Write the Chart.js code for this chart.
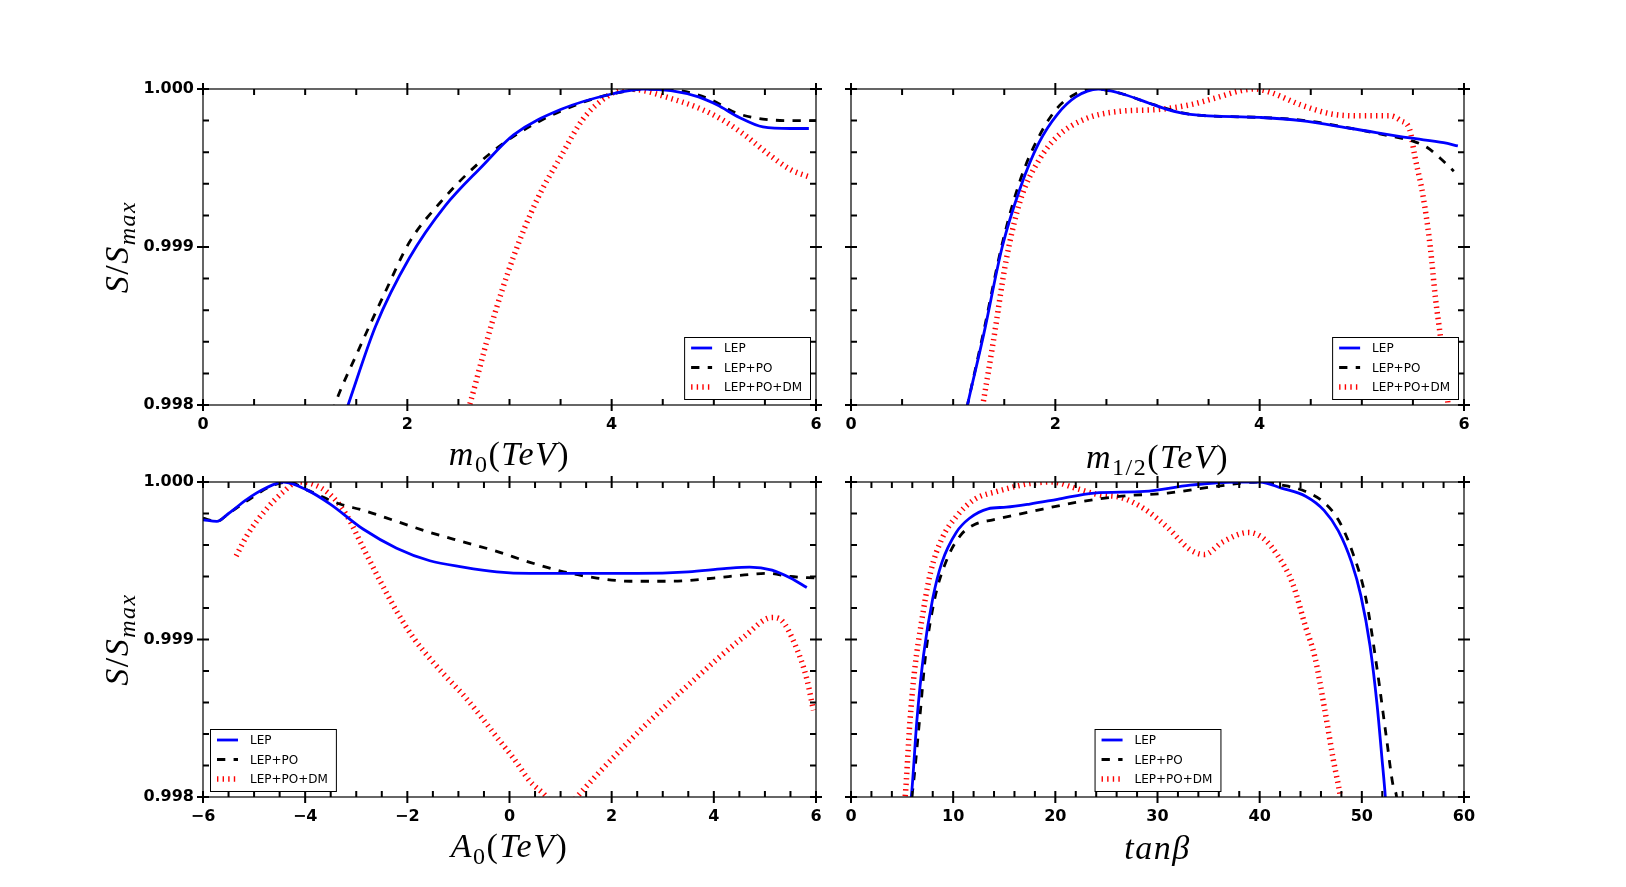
<!DOCTYPE html>
<html>
<head>
<meta charset="utf-8">
<script src="https://cdn.jsdelivr.net/npm/chart.js@4.4.0/dist/chart.umd.min.js"></script>
<style>
  html, body { margin: 0; background: #fff; }
  #wrap { position: relative; width: 1626px; height: 887px; }
  #wrap canvas { position: absolute; left: 0; top: 0; }
</style>
</head>
<body>
<div id="wrap">
  <canvas id="m0" width="1626" height="887"></canvas>
  <canvas id="mh" width="1626" height="887"></canvas>
  <canvas id="a0" width="1626" height="887"></canvas>
  <canvas id="tb" width="1626" height="887"></canvas>
</div>
<script>
// series labels
var seriesNames = ["LEP", "LEP+PO", "LEP+PO+DM"];

// m0 panel: [m0 (TeV), S/Smax]
var m0Lep = [[1.35,0.99787],[1.42,0.998],[1.69,0.99850],[2.02,0.99893],[2.37,0.99926],[2.73,0.99951],[3.04,0.99971],[3.5,0.99987],[4.01,0.99997],[4.31,1.0],[4.58,0.99999],[4.85,0.99995],[5.03,0.9999],[5.25,0.99982],[5.48,0.99976],[5.75,0.99975],[5.93,0.99975]];
var m0Po  = [[1.22,0.99785],[1.29,0.998],[1.51,0.99833],[1.78,0.99871],[2.02,0.99903],[2.32,0.99928],[2.68,0.99952],[3.04,0.9997],[3.5,0.99986],[4.01,0.99997],[4.4,1.0],[4.67,0.99999],[4.98,0.99993],[5.21,0.99985],[5.48,0.99981],[5.75,0.9998],[6.0,0.9998]];
var m0Dm  = [[2.55,0.99787],[2.61,0.998],[2.82,0.9985],[3.04,0.99894],[3.27,0.9993],[3.5,0.99957],[3.72,0.99981],[3.95,0.99995],[4.13,1.0],[4.31,0.99999],[4.53,0.99995],[4.85,0.99988],[5.07,0.99981],[5.3,0.99971],[5.53,0.99959],[5.75,0.99949],[5.95,0.99944]];

// m1/2 panel
var mhLep = [[1.1,0.99788],[1.14,0.998],[1.3,0.99845],[1.48,0.999],[1.66,0.99938],[1.84,0.99966],[2.02,0.99984],[2.2,0.99995],[2.42,1.0],[2.65,0.99997],[2.92,0.99991],[3.1,0.99987],[3.32,0.99984],[4.0,0.99982],[4.4,0.9998],[4.9,0.99975],[5.47,0.99969],[5.8,0.99966],[5.94,0.99964]];
var mhPo  = [[1.1,0.99788],[1.14,0.998],[1.3,0.99847],[1.48,0.99902],[1.66,0.99943],[1.84,0.9997],[2.02,0.99988],[2.2,0.99997],[2.38,1.0],[2.65,0.99997],[2.92,0.99991],[3.32,0.99984],[4.0,0.99982],[4.45,0.9998],[4.9,0.99975],[5.37,0.99969],[5.5,0.99967],[5.64,0.99963],[5.77,0.99956],[5.9,0.99948]];
var mhDm  = [[1.25,0.99785],[1.29,0.998],[1.39,0.99839],[1.52,0.99892],[1.66,0.9993],[1.84,0.99955],[2.02,0.9997],[2.29,0.99981],[2.65,0.99986],[3.0,0.99987],[3.32,0.9999],[3.55,0.99994],[3.82,0.99999],[3.95,1.0],[4.1,0.99998],[4.4,0.9999],[4.72,0.99984],[5.0,0.99983],[5.28,0.99983],[5.38,0.9998],[5.47,0.99974],[5.52,0.99957],[5.6,0.99932],[5.67,0.999],[5.72,0.99868],[5.77,0.99843],[5.82,0.99815],[5.86,0.9979]];

// A0 panel
var a0Lep = [[-6.0,0.99976],[-5.73,0.99975],[-5.5,0.9998],[-5.14,0.99989],[-4.78,0.99996],[-4.42,1.0],[-3.97,0.99995],[-3.51,0.99986],[-2.86,0.9997],[-2.21,0.99958],[-1.56,0.9995],[-0.91,0.99946],[-0.25,0.99943],[0.4,0.99942],[1.5,0.99942],[2.5,0.99942],[3.5,0.99943],[4.2,0.99945],[4.7,0.99946],[5.14,0.99944],[5.5,0.99939],[5.82,0.99933]];
var a0Po  = [[-6.0,0.99977],[-5.73,0.99975],[-5.5,0.9998],[-5.14,0.99988],[-4.69,0.99997],[-4.33,1.0],[-3.97,0.99995],[-3.32,0.99986],[-2.86,0.99982],[-2.21,0.99975],[-1.56,0.99968],[-0.91,0.99962],[-0.25,0.99956],[0.4,0.99949],[1.06,0.99943],[1.71,0.99939],[2.36,0.99937],[3.2,0.99937],[4.0,0.99939],[4.6,0.99941],[5.05,0.99942],[5.5,0.9994],[6.0,0.99939]];
var a0Dm  = [[-5.35,0.99953],[-5.14,0.99966],[-4.78,0.99982],[-4.42,0.99994],[-4.15,1.0],[-3.88,0.99999],[-3.51,0.99992],[-3.19,0.99979],[-2.86,0.99958],[-2.53,0.99937],[-2.21,0.99918],[-1.88,0.99901],[-1.56,0.99888],[-1.23,0.99876],[-0.91,0.99865],[-0.58,0.99852],[-0.25,0.99838],[0.07,0.99825],[0.4,0.9981],[0.73,0.998],[1.0,0.99788],[1.32,0.998],[1.71,0.99814],[2.36,0.99836],[2.8,0.9985],[3.7,0.99877],[4.6,0.99902],[5.14,0.99914],[5.33,0.99912],[5.6,0.99896],[5.82,0.99875],[5.95,0.99855]];

// tan(beta) panel
var tbLep = [[5.6,0.9979],[5.9,0.998],[6.44,0.99848],[7.1,0.9989],[8.0,0.99926],[8.9,0.99949],[10.3,0.99968],[11.6,0.99977],[13.4,0.99983],[15.2,0.99984],[17.5,0.99986],[20.2,0.99989],[23.8,0.99993],[28.7,0.99994],[33.2,0.99998],[37.7,1.0],[40,1.0],[42.2,0.99996],[44.5,0.99991],[46.3,0.99982],[47.7,0.99969],[49,0.99949],[49.9,0.99928],[50.8,0.99896],[51.5,0.99858],[51.95,0.99826],[52.3,0.998],[52.4,0.9979]];
var tbPo  = [[5.6,0.9979],[5.95,0.998],[6.7,0.99848],[7.3,0.9989],[8.2,0.99926],[9.4,0.99951],[10.7,0.99966],[12.1,0.99973],[13.9,0.99976],[17.5,0.99981],[22,0.99987],[26.5,0.99991],[31,0.99993],[35.5,0.99997],[40,1.0],[42.2,0.99998],[44.5,0.99994],[46.3,0.99987],[47.7,0.99976],[49,0.99957],[50.4,0.99926],[51.5,0.99881],[52.4,0.99838],[53.1,0.99806],[53.4,0.998],[53.5,0.9979]];
var tbDm  = [[5.1,0.9979],[5.3,0.998],[5.77,0.99848],[6.2,0.99879],[6.9,0.99911],[7.8,0.99943],[8.9,0.99964],[10.3,0.99978],[12.1,0.99989],[14.3,0.99994],[17.5,0.99999],[19.7,1.0],[22,0.99996],[24.2,0.99992],[26.5,0.9999],[28.7,0.99983],[31,0.99971],[33.2,0.99957],[34.6,0.99954],[36.4,0.99962],[38.9,0.99968],[40.4,0.99964],[41.8,0.99953],[43.2,0.99936],[44.5,0.99908],[45.4,0.99889],[46.3,0.99858],[47.2,0.99824],[47.9,0.998],[48.1,0.9979]];

var yTicks = [0.998, 0.999, 1.000];

Chart.defaults.font.family = "DejaVu Sans";
Chart.defaults.color = "#000";

var tickFont = { family: "DejaVu Sans", weight: "bold", size: 16 };
var mathSize = 34;

function mathFont(st, size) {
  var sub = st.charAt(0) === "s";
  var it = st.charAt(st.length - 1) === "i";
  return (it ? "italic " : "") + (sub ? Math.round(size * 0.7) : size) + "px 'Liberation Serif'";
}

function mathWidth(ctx, parts, size) {
  var w = 0;
  parts.forEach(function(p) { ctx.font = mathFont(p[1], size); w += ctx.measureText(p[0]).width; });
  return w;
}

function drawMath(ctx, parts, size, cx, base) {
  ctx.letterSpacing = "1.5px";
  var x = cx - mathWidth(ctx, parts, size) / 2;
  ctx.textAlign = "left";
  ctx.textBaseline = "alphabetic";
  parts.forEach(function(p) {
    ctx.font = mathFont(p[1], size);
    ctx.fillText(p[0], x, base + (p[1].charAt(0) === "s" ? size * 0.2 : 0));
    x += ctx.measureText(p[0]).width;
  });
  ctx.letterSpacing = "0px";
}

function eachTick(scale, minor, major, fn) {
  var n = Math.round((scale.max - scale.min) / minor);
  var every = Math.round(major / minor);
  for (var i = 0; i <= n; i++) {
    fn(scale.getPixelForValue(scale.min + i * minor), i % every === 0);
  }
}

// spines, inside/inout ticks, legend box and math labels
var framePlugin = {
  id: "frame",
  afterDatasetsDraw: function(chart, args, o) {
    var ctx = chart.ctx, a = chart.chartArea, x = chart.scales.x, y = chart.scales.y;
    ctx.save();
    ctx.strokeStyle = "#000";
    ctx.lineWidth = 1.2;
    ctx.setLineDash([]);
    ctx.strokeRect(a.left, a.top, a.right - a.left, a.bottom - a.top);

    ctx.lineWidth = 2;
    ctx.beginPath();
    eachTick(x, o.xMinor, o.xMajor, function(p, major) {
      var out = major ? 6 : 0;
      ctx.moveTo(p, a.bottom + out); ctx.lineTo(p, a.bottom - 6);
      ctx.moveTo(p, a.top - out); ctx.lineTo(p, a.top + 6);
    });
    eachTick(y, 0.0002, 0.001, function(p, major) {
      var out = major ? 6 : 0;
      ctx.moveTo(a.left - out, p); ctx.lineTo(a.left + 6, p);
      ctx.moveTo(a.right + out, p); ctx.lineTo(a.right - 6, p);
    });
    ctx.stroke();

    // legend
    ctx.font = "12px 'DejaVu Sans'";
    var tw = 0;
    chart.data.datasets.forEach(function(d) { tw = Math.max(tw, ctx.measureText(d.label).width); });
    var bw = 7 + 21 + 12 + tw + 8, bh = 62;
    var bx, by = a.bottom - 6 - bh;
    if (o.legend === "lr") bx = a.right - 6 - bw;
    else if (o.legend === "ll") bx = a.left + 7;
    else bx = (a.left + a.right) / 2 - bw / 2;
    ctx.fillStyle = "#fff";
    ctx.fillRect(bx, by, bw, bh);
    ctx.lineWidth = 1;
    ctx.strokeRect(bx + 0.5, by + 0.5, bw, bh);
    chart.data.datasets.forEach(function(d, i) {
      var ry = by + 11 + i * 19.5;
      ctx.save();
      ctx.strokeStyle = d.borderColor;
      ctx.lineWidth = d.borderWidth;
      ctx.lineCap = "butt";
      ctx.setLineDash(d.borderDash || []);
      ctx.beginPath();
      ctx.moveTo(bx + 7, ry);
      ctx.lineTo(bx + 28, ry);
      ctx.stroke();
      ctx.restore();
      ctx.fillStyle = "#000";
      ctx.textAlign = "left";
      ctx.textBaseline = "middle";
      ctx.fillText(d.label, bx + 40, ry + 1);
    });

    // axis titles
    ctx.fillStyle = "#000";
    drawMath(ctx, o.xTitle, mathSize, (a.left + a.right) / 2, a.bottom + o.xTitleGap);
    if (o.yTitle) {
      ctx.save();
      ctx.translate(128, (a.top + a.bottom) / 2);
      ctx.rotate(-Math.PI / 2);
      drawMath(ctx, o.yTitle, mathSize, 0, 0);
      ctx.restore();
    }
    ctx.restore();
  }
};

function series(label, pts, color, dash, width) {
  return {
    label: label,
    data: pts.map(function(p) { return { x: p[0], y: p[1] }; }),
    borderColor: color,
    borderWidth: width,
    borderDash: dash,
    borderCapStyle: "butt",
    pointRadius: 0,
    fill: false,
    cubicInterpolationMode: "monotone",
    clip: 0
  };
}

var sTitle = [["S", "i"], ["/", "r"], ["S", "i"], ["max", "si"]];

function panel(id, c) {
  return new Chart(document.getElementById(id), {
    type: "line",
    data: {
      datasets: [
        series(seriesNames[0], c.lep, "#0000ff", [], 2.8),
        series(seriesNames[1], c.po, "#000000", [8.3, 8.3], 2.8),
        series(seriesNames[2], c.dm, "#ff0000", [1.4, 4.2], 5.5)
      ]
    },
    options: {
      responsive: false,
      animation: false,
      events: [],
      layout: { padding: c.pad },
      scales: {
        x: {
          type: "linear",
          min: c.xmin, max: c.xmax,
          afterFit: function(s) { s.height = 80; },
          grid: { display: false, drawTicks: false },
          border: { display: false },
          ticks: {
            stepSize: c.xMajor, autoSkip: false, maxRotation: 0, padding: 10,
            color: "#000", font: tickFont,
            callback: function(v) { return v < 0 ? "\u2212" + Math.abs(v) : String(v); }
          }
        },
        y: {
          type: "linear",
          min: yTicks[0], max: yTicks[yTicks.length - 1],
          afterFit: function(s) { s.width = c.yw; },
          grid: { display: false, drawTicks: false },
          border: { display: false },
          ticks: {
            display: c.yLabels, stepSize: 0.001, padding: 9,
            color: "#000", font: tickFont,
            callback: function(v) { return v.toFixed(3); }
          }
        }
      },
      plugins: {
        legend: { display: false },
        tooltip: { enabled: false },
        frame: {
          xMinor: c.xMinor, xMajor: c.xMajor, legend: c.legend,
          xTitle: c.xTitle, xTitleGap: c.gap, yTitle: c.yLabels ? sTitle : null
        }
      }
    },
    plugins: [framePlugin]
  });
}

panel("m0", {
  lep: m0Lep, po: m0Po, dm: m0Dm, xmin: 0, xmax: 6, xMajor: 2, xMinor: 0.5,
  pad: { left: 0, top: 89, right: 810, bottom: 402 }, yw: 203, yLabels: true, legend: "lr",
  xTitle: [["m", "i"], ["0", "sr"], ["(", "r"], ["TeV", "i"], [")", "r"]], gap: 60
});
panel("mh", {
  lep: mhLep, po: mhPo, dm: mhDm, xmin: 0, xmax: 6, xMajor: 2, xMinor: 0.5,
  pad: { left: 811, top: 89, right: 162, bottom: 402 }, yw: 40, yLabels: false, legend: "lr",
  xTitle: [["m", "i"], ["1/2", "sr"], ["(", "r"], ["TeV", "i"], [")", "r"]], gap: 63
});
panel("a0", {
  lep: a0Lep, po: a0Po, dm: a0Dm, xmin: -6, xmax: 6, xMajor: 2, xMinor: 0.5,
  pad: { left: 0, top: 482, right: 810, bottom: 10 }, yw: 203, yLabels: true, legend: "ll",
  xTitle: [["A", "i"], ["0", "sr"], ["(", "r"], ["TeV", "i"], [")", "r"]], gap: 60
});
panel("tb", {
  lep: tbLep, po: tbPo, dm: tbDm, xmin: 0, xmax: 60, xMajor: 10, xMinor: 2,
  pad: { left: 811, top: 482, right: 162, bottom: 10 }, yw: 40, yLabels: false, legend: "lc",
  xTitle: [["tan\u03B2", "i"]], gap: 62
});
</script>
</body>
</html>
